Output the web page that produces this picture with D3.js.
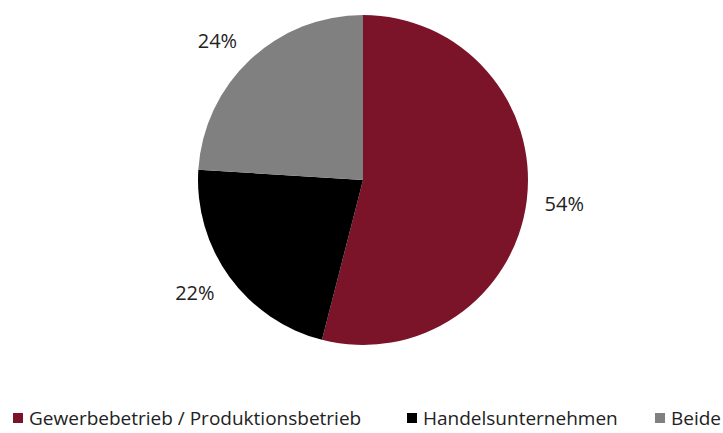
<!DOCTYPE html>
<html><head><meta charset="utf-8">
<script src="https://cdn.jsdelivr.net/npm/d3@7"></script>
<style>body{margin:0;background:#fff;font-family:"Open Sans",sans-serif;}</style>
</head><body>
<svg id="c" width="723" height="433"></svg>
<script>
const categories = ["Gewerbebetrieb / Produktionsbetrieb", "Handelsunternehmen", "Beide"];
const values = [54, 22, 24];
const labels = ["54%", "22%", "24%"];
const colors = ["#7B1429", "#000000", "#808080"];

const svg = d3.select("#c");
const cx = 363, cy = 180, R = 165;
const pie = d3.pie().sort(null).value(d => d)(values);
const arc = d3.arc().innerRadius(0).outerRadius(R);
const g = svg.append("g").attr("transform", `translate(${cx},${cy})`);
g.selectAll("path").data(pie).enter().append("path")
  .attr("d", arc).attr("fill", (d, i) => colors[i]);

const fs = 20;
pie.forEach((d, i) => {
  const a = (d.startAngle + d.endAngle) / 2;
  const rl = R + 16;
  const px = Math.sin(a) * rl, py = -Math.cos(a) * rl;
  const t = g.append("text").text(labels[i]).attr("font-size", fs).attr("fill", "#222")
    .attr("text-anchor", "middle").attr("dominant-baseline", "central");
  const w = t.node().getBBox().width;
  const x = px + Math.sign(Math.sin(a)) * (w / 2 + 2);
  const y = py - Math.cos(a) * fs / 2;
  t.attr("x", x).attr("y", y);
});

const legX = [13, 407, 655];
const lg = svg.append("g");
categories.forEach((c, i) => {
  lg.append("rect").attr("x", legX[i]).attr("y", 413).attr("width", 10).attr("height", 10).attr("fill", colors[i]);
  lg.append("text").attr("x", legX[i] + 16).attr("y", 418).attr("dominant-baseline", "central")
    .attr("font-size", 19).attr("fill", "#222").text(c);
});
</script>
</body></html>
